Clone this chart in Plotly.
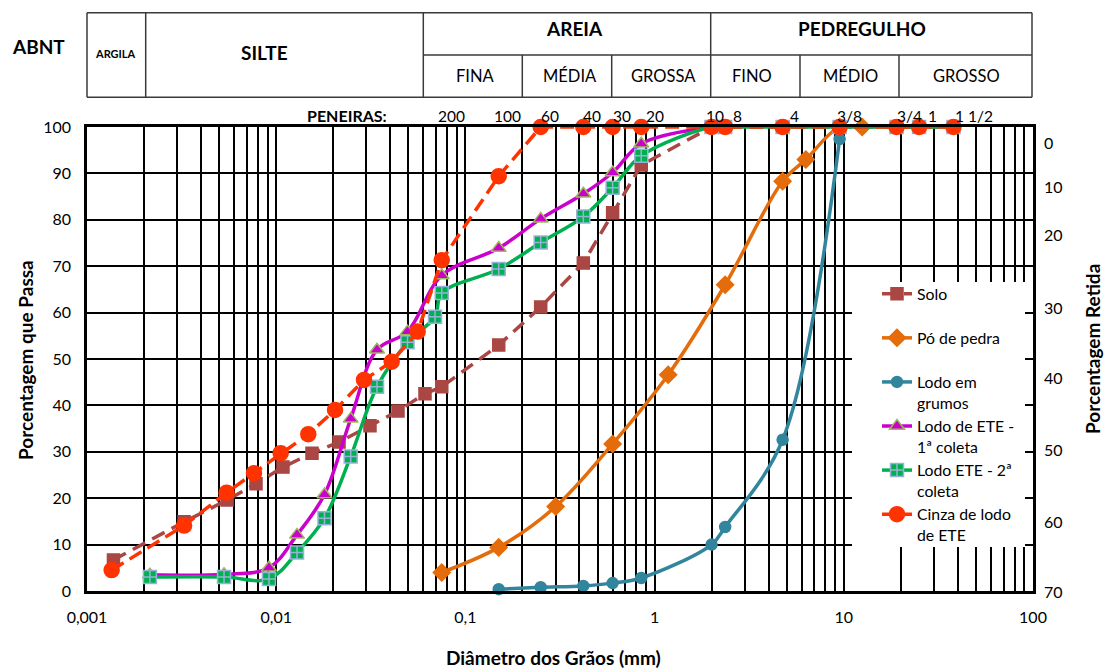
import math
import plotly.graph_objects as go

# ---------------------------------------------------------------- data
# Sieve openings (mm) and their ASTM numbers shown above the chart
SIEVE_MM = [0.075, 0.15, 0.25, 0.42, 0.6, 0.85, 2.0, 2.36, 4.75, 9.5, 19.0, 25.0, 38.0]
SIEVE_NAMES = ["200", "100", "60", "40", "30", "20", "10", "8", "4", "3/8", "3/4", "1", "1 1/2"]
# small horizontal nudges (px) so neighbouring sieve names do not collide
SIEVE_NAME_NUDGE = [-4, -5, 0, 0, 0, 5, -6, 8, 7, -3, 0, 9, 1]

# Grain diameter (mm) and percentage passing for each material
SOLO_D = [0.00138, 0.00326, 0.0055, 0.00782, 0.01086, 0.01546, 0.02148, 0.03131, 0.04403, 0.06115,
          0.075, 0.15, 0.25, 0.42, 0.6, 0.85, 2.0, 4.75, 9.5, 19.0, 25.0, 38.0]
SOLO_P = [6.7, 14.9, 19.6, 23.1, 26.7, 29.7, 32.1, 35.6, 38.8, 42.5,
          44.0, 53.0, 61.2, 70.7, 81.5, 91.8, 100, 100, 100, 100, 100, 100]

PO_D = [0.075, 0.15, 0.3, 0.6, 1.18, 2.36, 4.75, 6.3, 9.5, 12.5]
PO_P = [4.0, 9.4, 18.2, 31.7, 46.6, 66.0, 88.3, 93.0, 100, 100]

GRUMOS_D = [0.15, 0.25, 0.42, 0.6, 0.85, 2.0, 2.36, 4.75, 9.5]
GRUMOS_P = [0.4, 0.8, 1.1, 1.7, 2.8, 10.0, 13.8, 32.6, 97.4]

ETE1_D = [0.00215, 0.0053, 0.00916, 0.01288, 0.0180, 0.02476, 0.0341, 0.04943,
          0.075, 0.15, 0.25, 0.42, 0.6, 0.85, 2.0]
ETE1_P = [3.5, 3.6, 5.0, 12.1, 20.8, 37.1, 52.0, 55.9,
          68.0, 73.9, 80.2, 85.6, 90.2, 96.4, 100]

ETE2_D = [0.00215, 0.0053, 0.00916, 0.01288, 0.0180, 0.02476, 0.0341, 0.04943, 0.06909,
          0.075, 0.15, 0.25, 0.42, 0.6, 0.85, 2.0, 2.36, 4.75, 9.5, 19.0, 25.0, 38.0]
ETE2_P = [3.0, 3.0, 2.6, 8.3, 15.7, 29.0, 44.0, 53.6, 59.1,
          64.2, 69.4, 75.1, 80.7, 86.9, 93.8, 100, 100, 100, 100, 100, 100, 100]

CINZA_D = [0.00135, 0.00326, 0.00547, 0.00763, 0.01056, 0.01478, 0.02046, 0.02911, 0.04077, 0.05597,
           0.075, 0.15, 0.25, 0.42, 0.6, 0.85, 2.0, 2.36, 4.75, 9.5, 19.0, 25.0, 38.0]
CINZA_P = [4.5, 14.1, 21.2, 25.4, 29.7, 33.8, 39.0, 45.5, 49.4, 55.9,
           71.3, 89.4, 100, 100, 100, 100, 100, 100, 100, 100, 100, 100, 100]

# Axis labelling
X_DECADES = [0.001, 0.01, 0.1, 1, 10, 100]
X_DECADE_LABELS = ["0,001", "0,01", "0,1", "1", "10", "100"]
RETIDA_LABELS = ["0", "10", "20", "30", "40", "50", "60", "70"]
RETIDA_LABEL_Y = [96.6, 87.2, 76.8, 61.1, 46.0, 30.4, 14.9, 0.0]

# ABNT classification header
HEADER_TOP = ["ARGILA", "SILTE", "AREIA", "PEDREGULHO"]
HEADER_SUB = ["FINA", "MÉDIA", "GROSSA", "FINO", "MÉDIO", "GROSSO"]

# ---------------------------------------------------------------- layout geometry
W, H = 1105, 670
ML, MR, MT, MB = 87, 72, 127, 79
PW = W - ML - MR
PH = H - MT - MB
FONT = "Lato, 'Open Sans', sans-serif"


def px(x):
    return (x - ML) / PW


def py(y):
    return (H - MB - y) / PH


fig = go.Figure()


def add_series(name, d, p, color, dash, symbol, size, edge=None, shape="linear"):
    fig.add_trace(go.Scatter(
        x=d, y=p, name=name, mode="lines+markers", cliponaxis=False,
        line=dict(color=color, width=3.5, dash=dash, shape=shape, smoothing=1),
        marker=dict(symbol=symbol, size=size, color=color,
                    line=dict(color=edge or color, width=1.5)),
    ))


add_series("Solo<br> ", SOLO_D, SOLO_P, "#AA4643", "14px,8px", "square", 12)
add_series("Pó de pedra<br> ", PO_D, PO_P, "#E46C0A", "solid", "diamond", 13, shape="spline")
add_series("Lodo em<br>grumos", GRUMOS_D, GRUMOS_P, "#31859C", "solid", "circle", 11, shape="spline")
add_series("Lodo de ETE -<br>1ª coleta", ETE1_D, ETE1_P, "#CC00CC", "solid", "triangle-up", 13,
           edge="#9BBB59", shape="spline")
add_series("Lodo ETE - 2ª<br>coleta", ETE2_D, ETE2_P, "#00B050", "solid", "square-cross", 13,
           edge="#95B3D7", shape="spline")
add_series("Cinza de lodo<br>de ETE", CINZA_D, CINZA_P, "#FF3300", "14px,7px", "circle", 15)

# log grid: every 1..9 x 10^k, labels only on the decades
grid_vals = [k * 10.0 ** e for e in range(-3, 2) for k in range(1, 10)] + [100.0]
grid_text = []
for v in grid_vals:
    lab = ""
    for dv, dl in zip(X_DECADES, X_DECADE_LABELS):
        if abs(v - dv) < 1e-9 * max(dv, 1):
            lab = dl
    grid_text.append(lab)

shapes = []


def hline(x0, x1, y):
    shapes.append(dict(type="line", xref="paper", yref="paper", x0=px(x0), x1=px(x1),
                       y0=py(y), y1=py(y), line=dict(color="#3a3a3a", width=1.5)))


def vline(x, y0, y1):
    shapes.append(dict(type="line", xref="paper", yref="paper", x0=px(x), x1=px(x),
                       y0=py(y0), y1=py(y1), line=dict(color="#3a3a3a", width=1.5)))


# header table
T_L, T_R, T_T, T_M, T_B = 87, 1032, 12.7, 55, 97.3
hline(T_L, T_R, T_T)
hline(T_L, T_R, T_B)
hline(423.3, T_R, T_M)
for xv in (T_L, 145.7, 423.3, 710.7, T_R):
    vline(xv, T_T, T_B)
for xv in (522.3, 611.7, 800, 899):
    vline(xv, T_M, T_B)

# legend backdrop
shapes.append(dict(type="rect", xref="paper", yref="paper", layer="above",
                   x0=px(852), x1=px(1025), y0=py(547), y1=py(282),
                   fillcolor="white", line=dict(width=0)))

ann = []


def text(x, y, s, size, bold=False, anchor="center", angle=0):
    ann.append(dict(xref="paper", yref="paper", x=px(x), y=py(y),
                    text=f"<b>{s}</b>" if bold else s, showarrow=False,
                    xanchor=anchor, yanchor="middle", textangle=angle,
                    font=dict(family=FONT, size=size, color="black")))


text(38, 46, "ABNT", 19, bold=True)
top_pos = [(115, 54, 11), (264, 52, 19), (574, 29, 19), (862, 29, 19)]
for s, (x, y, sz) in zip(HEADER_TOP, top_pos):
    text(x, y, s, sz, bold=True)
sub_x = [475, 569.5, 663, 752, 850, 966]
for s, x in zip(HEADER_SUB, sub_x):
    text(x, 76.5, s, 16.5)

text(389, 116, "PENEIRAS:", 16, bold=True, anchor="right")
for mm, name, nudge in zip(SIEVE_MM, SIEVE_NAMES, SIEVE_NAME_NUDGE):
    ann.append(dict(xref="x", yref="paper", x=math.log10(mm), y=py(116), text=name,
                    showarrow=False, xanchor="left", yanchor="middle", xshift=nudge - 2,
                    font=dict(family=FONT, size=15.5, color="black")))

# right-hand "Porcentagem Retida" scale
for s, yv in zip(RETIDA_LABELS, RETIDA_LABEL_Y):
    ann.append(dict(xref="paper", yref="y", x=px(1042), y=yv, text=s, showarrow=False,
                    xanchor="left", yanchor="middle",
                    font=dict(family=FONT, size=16, color="black")))

text(25, 360, "Porcentagem que Passa", 19, bold=True, angle=-90)
text(1092, 349, "Porcentagem Retida", 19, bold=True, angle=-90)
text(553, 657, "Diâmetro dos Grãos (mm)", 19, bold=True)

fig.update_layout(
    width=W, height=H,
    margin=dict(l=ML, r=MR, t=MT, b=MB, pad=0),
    paper_bgcolor="white", plot_bgcolor="white",
    font=dict(family=FONT, size=16, color="black"),
    shapes=shapes, annotations=ann,
    legend=dict(x=px(877), y=py(277), xanchor="left", yanchor="top",
                bgcolor="rgba(0,0,0,0)", borderwidth=0, valign="top",
                font=dict(family=FONT, size=15.8, color="black"),
                traceorder="normal", tracegroupgap=0),
    xaxis=dict(type="log", range=[-3, 2], tickmode="array", tickvals=grid_vals,
               ticktext=grid_text, ticks="", showgrid=True, gridcolor="black",
               gridwidth=1.5, showline=True, linecolor="black", linewidth=2.5,
               mirror=True, zeroline=False, ticklabelstandoff=10,
               tickfont=dict(family=FONT, size=16, color="black")),
    yaxis=dict(range=[0, 100], tickmode="linear", tick0=0, dtick=10, ticks="inside",
               ticklen=8, tickwidth=1.5, tickcolor="black", showgrid=True,
               gridcolor="black", gridwidth=1.5, showline=True, linecolor="black",
               linewidth=2.5, mirror="ticks", zeroline=False, ticklabelstandoff=10,
               tickfont=dict(family=FONT, size=16, color="black")),
)

fig.write_html("out.html")
